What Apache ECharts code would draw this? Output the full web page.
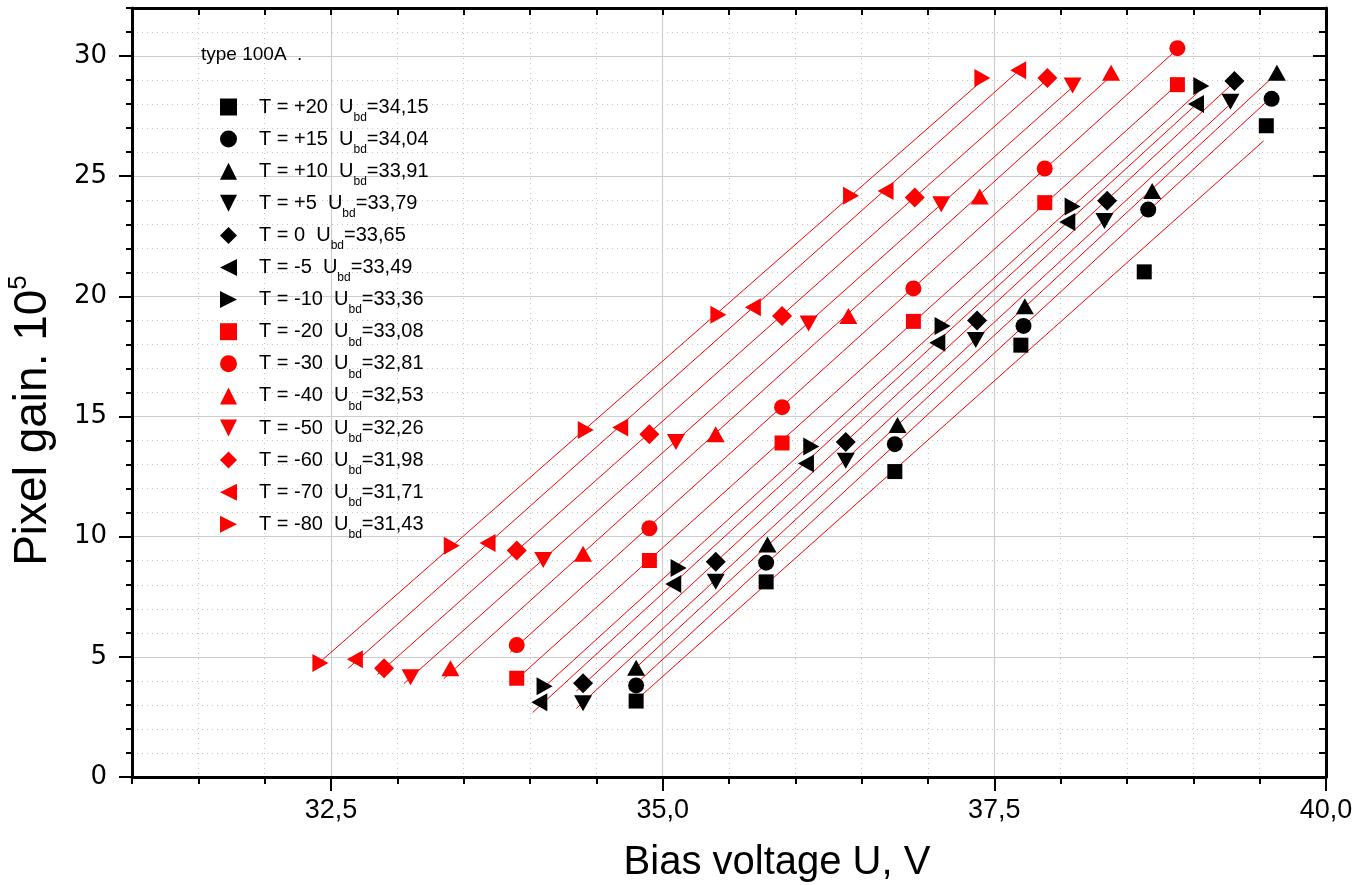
<!DOCTYPE html>
<html>
<head>
<meta charset="utf-8">
<script src="https://cdn.jsdelivr.net/npm/echarts@6/dist/echarts.min.js"></script>
<style>
  html, body { margin: 0; padding: 0; background: #ffffff; }
  #chart { width: 1362px; height: 885px; }
</style>
</head>
<body>
<div id="chart"></div>
<script>
// Temperatures (°C) and breakdown voltages (V) for each measured series
const temperatures = ['+20', '+15', '+10', '+5', '0', '-5', '-10', '-20', '-30', '-40', '-50', '-60', '-70', '-80'];
const breakdownVoltages = [34.15, 34.04, 33.91, 33.79, 33.65, 33.49, 33.36, 33.08, 32.81, 32.53, 32.26, 31.98, 31.71, 31.43];

// Bias voltage U (V) and pixel gain (x10^5) per temperature
const biasP20 = [34.80, 35.78, 36.75, 37.70, 38.63, 39.55];
const gainP20 = [3.16, 8.12, 12.71, 17.97, 21.02, 27.10];
const biasP15 = [34.80, 35.78, 36.75, 37.72, 38.66, 39.59];
const gainP15 = [3.81, 8.92, 13.85, 18.77, 23.61, 28.22];
const biasP10 = [34.80, 35.79, 36.77, 37.73, 38.69, 39.63];
const gainP10 = [4.55, 9.67, 14.65, 19.59, 24.39, 29.31];
const biasP5 = [34.40, 35.40, 36.38, 37.36, 38.33, 39.28];
const gainP5 = [3.07, 8.12, 13.16, 18.18, 23.14, 28.10];
const biasZ0 = [34.40, 35.40, 36.38, 37.37, 38.35, 39.31];
const gainZ0 = [3.90, 8.96, 13.94, 19.00, 23.98, 28.96];
const biasM5 = [34.07, 35.08, 36.08, 37.07, 38.05, 39.02];
const gainM5 = [3.11, 8.03, 13.05, 18.07, 23.09, 28.01];
const biasM10 = [34.11, 35.12, 36.12, 37.11, 38.09, 39.06];
const gainM10 = [3.78, 8.70, 13.75, 18.77, 23.74, 28.75];
const biasM20 = [33.90, 34.90, 35.90, 36.89, 37.88, 38.88];
const gainM20 = [4.11, 9.01, 13.90, 18.96, 23.90, 28.81];
const biasM30 = [33.90, 34.90, 35.90, 36.89, 37.88, 38.88];
const gainM30 = [5.49, 10.35, 15.39, 20.33, 25.32, 30.33];
const biasM40 = [33.40, 34.40, 35.40, 36.40, 37.39, 38.38];
const gainM40 = [4.53, 9.29, 14.26, 19.18, 24.16, 29.31];
const biasM50 = [33.10, 34.10, 35.10, 36.10, 37.10, 38.09];
const gainM50 = [4.15, 9.03, 13.94, 18.87, 23.83, 28.77];
const biasM60 = [32.90, 33.90, 34.90, 35.90, 36.90, 37.90];
const gainM60 = [4.53, 9.43, 14.26, 19.18, 24.11, 29.09];
const biasM70 = [32.68, 33.68, 34.68, 35.68, 36.68, 37.68];
const gainM70 = [4.90, 9.74, 14.54, 19.55, 24.39, 29.41];
const biasM80 = [32.42, 33.41, 34.42, 35.42, 36.42, 37.41];
const gainM80 = [4.74, 9.62, 14.44, 19.24, 24.19, 29.09];

const biasSets = [biasP20, biasP15, biasP10, biasP5, biasZ0, biasM5, biasM10, biasM20, biasM30, biasM40, biasM50, biasM60, biasM70, biasM80];
const gainSets = [gainP20, gainP15, gainP10, gainP5, gainZ0, gainM5, gainM10, gainM20, gainM30, gainM40, gainM50, gainM60, gainM70, gainM80];

// Axis tick values
const xMajorTicks = [32.5, 35.0, 37.5, 40.0];
const yMajorTicks = [0, 5, 10, 15, 20, 25, 30];

// Marker shapes
const TRI_DOWN = 'path://M0,0L10,0L5,10Z';
const TRI_LEFT = 'path://M10,0L10,10L0,5Z';
const TRI_RIGHT = 'path://M0,0L10,5L0,10Z';
const shapeCycle = ['rect', 'circle', 'triangle', TRI_DOWN, 'diamond', TRI_LEFT, TRI_RIGHT];
const BLACK = '#000000';
const RED = '#ff0000';

const FONT = '"Liberation Sans", Arial, Helvetica, sans-serif';
const WIDE_FONT = '"DejaVu Sans", Verdana, sans-serif';
const fmtComma = (v, d) => v.toFixed(d).replace('.', ',');

const seriesNames = temperatures.map(t => 'T = ' + t);

function markerSize(shape) {
  if (shape === 'rect') return 15;
  if (shape === 'circle') return 16;
  if (shape === 'diamond') return 20;
  if (shape === 'triangle' || shape === TRI_DOWN) return [18, 16];
  return [16, 18];
}

// Scatter series with markers
const scatterSeries = seriesNames.map((name, i) => {
  const black = i < 7;
  const shape = black ? shapeCycle[i] : shapeCycle[i - 7];
  return {
    name: name,
    type: 'scatter',
    xAxisIndex: 0,
    yAxisIndex: 0,
    symbol: shape,
    symbolSize: markerSize(shape),
    itemStyle: { color: black ? BLACK : RED, opacity: 1 },
    z: 5,
    data: biasSets[i].map((x, k) => [x, gainSets[i][k]])
  };
});

// Linear fits G = k (U - Ubd), slope by least squares through the breakdown voltage
const fitSeries = seriesNames.map((name, i) => {
  const u0 = breakdownVoltages[i];
  const xs = biasSets[i], ys = gainSets[i];
  let sxy = 0, sxx = 0;
  xs.forEach((x, k) => { const dx = x - u0; sxy += dx * ys[k]; sxx += dx * dx; });
  const slope = sxy / sxx;
  const x0 = Math.min(...xs) - 0.05;
  const x1 = Math.max(...xs) - 0.02;
  return {
    name: name + ' fit',
    type: 'line',
    xAxisIndex: 0,
    yAxisIndex: 0,
    symbol: 'none',
    silent: true,
    z: 3,
    lineStyle: { color: RED, width: 1 },
    data: [[x0, slope * (x0 - u0)], [x1, slope * (x1 - u0)]]
  };
});

const axisLineStyle = { show: true, onZero: false, lineStyle: { color: '#000', width: 3 } };
const tickLine = { color: '#000', width: 2 };
const minorGrid = { show: true, lineStyle: { color: '#c6c6c6', width: 1, type: [1, 4] } };
const majorGrid = { show: true, lineStyle: { color: '#cdcdcd', width: 1.2, type: 'solid' } };

const xCommon = { type: 'value', min: 31, max: 40, gridIndex: 0 };
const yCommon = { type: 'value', min: 0, max: 32, gridIndex: 0 };

const option = {
  animation: false,
  backgroundColor: '#ffffff',
  grid: { left: 132, right: 36, top: 8, bottom: 108, containLabel: false, outerBoundsMode: 'none' },
  xAxis: [
    Object.assign({}, xCommon, {
      position: 'bottom', interval: 0.5,
      axisLine: axisLineStyle,
      axisTick: { show: true, inside: false, length: 7, lineStyle: tickLine },
      axisLabel: { show: false },
      splitLine: minorGrid,
      name: 'Bias voltage U, V', nameLocation: 'middle', nameGap: 66,
      nameTextStyle: { fontFamily: FONT, fontSize: 40, color: '#000', padding: [0, 0, 0, 96] }
    }),
    Object.assign({}, xCommon, {
      position: 'bottom',
      axisLine: { show: false },
      axisTick: { show: true, inside: false, length: 14, lineStyle: tickLine, customValues: xMajorTicks },
      axisLabel: {
        show: true, customValues: xMajorTicks, margin: 20,
        fontFamily: FONT, fontSize: 27, color: '#000',
        formatter: v => fmtComma(v, 1)
      },
      splitLine: majorGrid
    }),
    Object.assign({}, xCommon, {
      position: 'top', interval: 0.5,
      axisLine: axisLineStyle,
      axisTick: { show: true, inside: true, length: 7, lineStyle: tickLine },
      axisLabel: { show: false },
      splitLine: { show: false }
    }),
    Object.assign({}, xCommon, {
      position: 'top',
      axisLine: { show: false },
      axisTick: { show: true, inside: true, length: 14, lineStyle: tickLine, customValues: xMajorTicks },
      axisLabel: { show: false },
      splitLine: { show: false }
    })
  ],
  yAxis: [
    Object.assign({}, yCommon, {
      position: 'left', interval: 1,
      axisLine: axisLineStyle,
      axisTick: { show: true, inside: false, length: 6, lineStyle: tickLine },
      axisLabel: { show: false },
      splitLine: minorGrid,
      name: 'Pixel gain. 10{sup|5}', nameLocation: 'middle', nameGap: 72,
      nameTextStyle: {
        fontFamily: FONT, fontSize: 46, color: '#000', lineHeight: 54, padding: [0, 56, 0, 0],
        rich: { sup: { fontFamily: FONT, fontSize: 26, verticalAlign: 'top', lineHeight: 27, color: '#000' } }
      }
    }),
    Object.assign({}, yCommon, {
      position: 'left',
      axisLine: { show: false },
      axisTick: { show: true, inside: false, length: 13, lineStyle: tickLine, customValues: yMajorTicks },
      axisLabel: {
        show: true, customValues: yMajorTicks, margin: 25,
        fontFamily: WIDE_FONT, fontSize: 26, color: '#000'
      },
      splitLine: majorGrid
    }),
    Object.assign({}, yCommon, {
      position: 'right', interval: 1,
      axisLine: axisLineStyle,
      axisTick: { show: true, inside: true, length: 7, lineStyle: tickLine },
      axisLabel: { show: false },
      splitLine: { show: false }
    }),
    Object.assign({}, yCommon, {
      position: 'right',
      axisLine: { show: false },
      axisTick: { show: true, inside: true, length: 13, lineStyle: tickLine, customValues: yMajorTicks },
      axisLabel: { show: false },
      splitLine: { show: false }
    })
  ],
  legend: {
    show: true,
    data: seriesNames,
    orient: 'vertical',
    left: 215,
    top: 92,
    itemWidth: 17,
    itemHeight: 17,
    itemGap: 5.6,
    selectedMode: false,
    formatter: name => {
      const i = seriesNames.indexOf(name);
      return '{pad| }{t|' + name + '  U}{sub|bd}{t|=' + fmtComma(breakdownVoltages[i], 2) + '}';
    },
    textStyle: {
      fontFamily: FONT, fontSize: 20, color: '#000',
      rich: {
        pad: { width: 17, lineHeight: 33 },
        t: { fontFamily: FONT, fontSize: 20, color: '#000', lineHeight: 33, verticalAlign: 'middle' },
        sub: { fontFamily: FONT, fontSize: 12, color: '#000', lineHeight: 12, verticalAlign: 'bottom' }
      }
    }
  },
  graphic: [
    {
      type: 'text', left: 201, top: 45, z: 10,
      style: { text: 'type 100A  .', font: '19px ' + FONT, fill: '#000' }
    }
  ],
  series: fitSeries.concat(scatterSeries)
};

const chart = echarts.init(document.getElementById('chart'), null, { renderer: 'canvas' });
chart.setOption(option);
</script>
</body>
</html>
